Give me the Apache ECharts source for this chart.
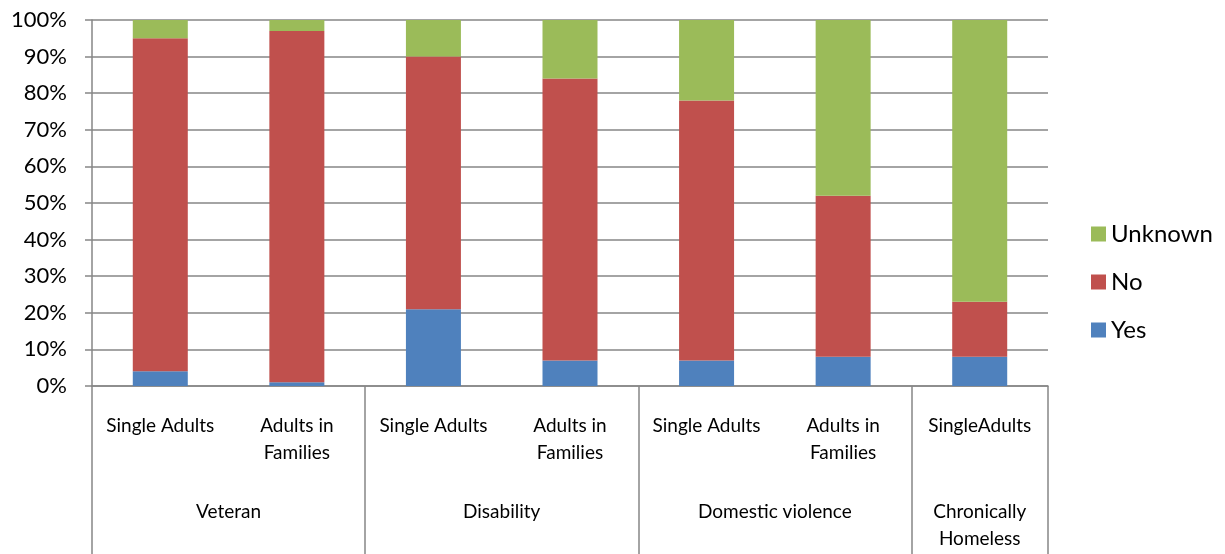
<!DOCTYPE html>
<html>
<head>
<meta charset="utf-8">
<script src="https://cdn.jsdelivr.net/npm/echarts@6/dist/echarts.min.js"></script>
<style>
  html, body { margin: 0; padding: 0; background: #fff; }
  #grafica { width: 1225px; height: 554px; }
</style>
</head>
<body>
<div id="grafica"></div>
<script>
// sub categories (bottom row of the axis) and their groups
let subLabels = ['Single Adults', 'Adults in\nFamilies', 'Single Adults', 'Adults in\nFamilies', 'Single Adults', 'Adults in\nFamilies', 'SingleAdults'];
let groupLabels = ['Veteran', 'Disability', 'Domestic violence', 'Chronically\nHomeless'];
let groupSizes = [2, 2, 2, 1];

// percent values
let yesData = [4, 1, 21, 7, 7, 8, 8];
let noData = [91, 96, 69, 77, 71, 44, 15];
let unknownData = [5, 3, 10, 16, 22, 48, 77];

let yTicks = [0, 10, 20, 30, 40, 50, 60, 70, 80, 90, 100];

let fuente = 'Lato';
let gris = '#868686';

// second axis: half-category points so group names sit at group centres
let groupAxisData = [];
let groupTickIdx = [0];
let groupLabelIdx = [];
let pos = 0;
for (let i = 0; i < groupSizes.length; i++) {
    groupLabelIdx.push(pos + groupSizes[i]);
    pos += groupSizes[i] * 2;
    groupTickIdx.push(pos);
}
for (let k = 0; k <= pos; k++) {
    let g = groupLabelIdx.indexOf(k);
    groupAxisData.push(g >= 0 ? groupLabels[g] : ' ' + k);
}

let chart = echarts.init(document.getElementById('grafica'));
let option = {
    animation: false,
    textStyle: { fontFamily: fuente },
    grid: { left: 92, right: 177, top: 20, bottom: 168 },
    legend: {
        orient: 'vertical',
        left: 1091,
        top: 222,
        padding: 0,
        itemWidth: 15,
        itemHeight: 15,
        itemGap: 24,
        icon: 'rect',
        data: ['Unknown', 'No', 'Yes'],
        textStyle: { fontSize: 24, color: '#000', fontFamily: fuente }
    },
    xAxis: [
        {
            type: 'category',
            data: subLabels,
            position: 'bottom',
            axisLine: { lineStyle: { color: gris, width: 1.5 } },
            axisTick: { interval: 0, length: 86, lineStyle: { color: gris, width: 1.5 } },
            axisLabel: {
                interval: 0,
                margin: 26,
                fontSize: 19,
                lineHeight: 27,
                color: '#000',
                fontFamily: fuente
            }
        },
        {
            type: 'category',
            data: groupAxisData,
            position: 'bottom',
            boundaryGap: false,
            axisLine: { show: false },
            axisTick: {
                interval: function(idx) { return groupTickIdx.indexOf(idx) >= 0; },
                length: 175,
                lineStyle: { color: gris, width: 1.5 }
            },
            axisLabel: {
                interval: function(idx) { return groupLabelIdx.indexOf(idx) >= 0; },
                margin: 112,
                fontSize: 19,
                lineHeight: 27,
                color: '#000',
                fontFamily: fuente,
                hideOverlap: false
            }
        }
    ],
    yAxis: {
        type: 'value',
        min: yTicks[0],
        max: yTicks[yTicks.length - 1],
        interval: yTicks[1] - yTicks[0],
        axisLine: { show: true, lineStyle: { color: gris, width: 1.5 } },
        axisTick: { show: true, length: 7, lineStyle: { color: gris, width: 1.5 } },
        splitLine: { lineStyle: { color: gris, width: 1.5 } },
        axisLabel: {
            formatter: '{value}%',
            margin: 25,
            fontSize: 22,
            color: '#000',
            fontFamily: fuente
        }
    },
    series: [
        { name: 'Yes', type: 'bar', stack: 'total', barWidth: 55, data: yesData, itemStyle: { color: '#4F81BD' } },
        { name: 'No', type: 'bar', stack: 'total', barWidth: 55, data: noData, itemStyle: { color: '#C0504D' } },
        { name: 'Unknown', type: 'bar', stack: 'total', barWidth: 55, data: unknownData, itemStyle: { color: '#9BBB59' } }
    ]
};
option && chart.setOption(option);
</script>
</body>
</html>
